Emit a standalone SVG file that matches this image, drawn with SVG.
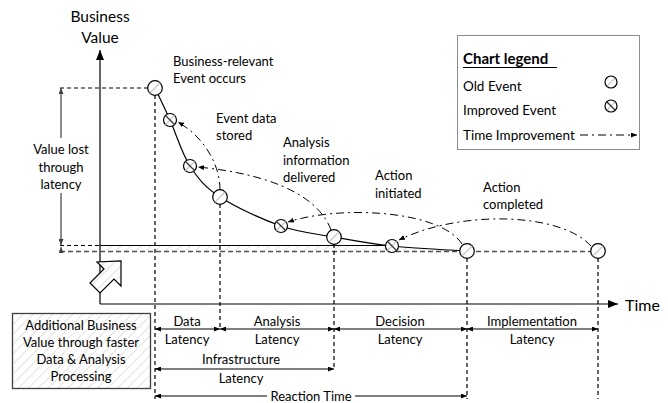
<svg xmlns="http://www.w3.org/2000/svg" width="668" height="403" viewBox="0 0 668 403">
<style>
text{font-family:Lato,"Liberation Sans",sans-serif;fill:#000}
.lbl{font-size:13px}
.leg{font-size:13.5px}
.ctr{text-anchor:middle}
.dash{stroke:#000;stroke-width:1.2;stroke-dasharray:4 3;fill:none}
.dd{stroke:#000;stroke-width:1;stroke-dasharray:8 4 2 4;fill:none}
.solid{stroke:#000;stroke-width:1.2;fill:none}
.ev{fill:#fff;stroke:#000;stroke-width:1.2}
.lt{stroke:#c8c8c8;stroke-width:1.2}
.dk{stroke:#333;stroke-width:1.3}
</style>
<defs>
<pattern id="hatch" patternUnits="userSpaceOnUse" width="7" height="7" patternTransform="rotate(45)">
<rect width="7" height="7" fill="#fff"/><line x1="0" y1="0" x2="0" y2="7" stroke="#cfcfcf" stroke-width="1.2"/>
</pattern>
<marker id="ah" viewBox="0 0 10 8" refX="10" refY="4" markerWidth="10" markerHeight="8" markerUnits="userSpaceOnUse" orient="auto-start-reverse"><path d="M0,0 L10,4 L0,8 z" fill="#000"/></marker>
<marker id="as" viewBox="0 0 6 5" refX="6" refY="2.5" markerWidth="6" markerHeight="5" markerUnits="userSpaceOnUse" orient="auto-start-reverse"><path d="M0,0 L6,2.5 L0,5 z" fill="#000"/></marker>
<marker id="ag" viewBox="0 0 6 5" refX="6" refY="2.5" markerWidth="6" markerHeight="5" markerUnits="userSpaceOnUse" orient="auto-start-reverse"><path d="M0,0 L6,2.5 L0,5 z" fill="#404040"/></marker>
</defs>
<rect width="668" height="403" fill="#fff"/>

<!-- hatched value band -->
<polygon points="100,245.5 392,245.5 467,251 100,251" fill="url(#hatch)"/>

<g id="axes">
<line x1="100" y1="304" x2="100" y2="50" class="solid" stroke-width="1.5" marker-end="url(#ah)"/>
<line x1="100" y1="304" x2="618" y2="304" class="solid" stroke-width="1.5" marker-end="url(#ah)"/>
<text x="100" y="22" class="ctr" font-size="15.5">Business</text>
<text x="100" y="43" class="ctr" font-size="15.5">Value</text>
<text x="625" y="311" font-size="16">Time</text>
</g>

<g id="connectors">
<line x1="60" y1="88" x2="148" y2="88" class="dash"/>
<line x1="60" y1="245.5" x2="100" y2="245.5" class="dash"/>
<line x1="100" y1="245.5" x2="386" y2="245.5" class="solid"/>
<line x1="60" y1="251.5" x2="591" y2="251.5" stroke="#505050" stroke-width="1.7" stroke-dasharray="5 3"/>
<line x1="155" y1="95" x2="155" y2="399" class="dash"/>
<line x1="220" y1="204" x2="220" y2="330" class="dash"/>
<line x1="334" y1="244" x2="334" y2="370" class="dash"/>
<line x1="467" y1="258" x2="467" y2="399" class="dash"/>
<line x1="598" y1="258" x2="598" y2="399" class="dash"/>
<line x1="61" y1="138" x2="61" y2="88" stroke="#404040" stroke-width="1.2" marker-end="url(#ag)"/>
<line x1="61" y1="193" x2="61" y2="245" stroke="#404040" stroke-width="1.2" marker-end="url(#ag)"/>
<line x1="61" y1="252" x2="61" y2="247" stroke="#404040" stroke-width="1" marker-end="url(#ag)"/>
<path class="solid" d="M155,88 C157.5,93.3 164.2,107 170,120 C175.8,133 181.7,153.2 190,166 C198.3,178.8 204.8,187 220,197 C235.2,207 262,219.3 281,226 C300,232.7 315.5,233.7 334,237 C352.5,240.3 369.8,243.7 392,246 C414.2,248.3 454.5,250.2 467,251"/>
<path class="dd" d="M220,190 C220,165 205,138 178,122" marker-end="url(#as)"/>
<path class="dd" d="M331,230 C320,200 280,175 198,167" marker-end="url(#as)"/>
<path class="dd" d="M462,244 C440,210 340,205 288,222" marker-end="url(#as)"/>
<path class="dd" d="M591,246 C560,212 460,210 399,240" marker-end="url(#as)"/>
<line x1="155" y1="329" x2="220" y2="329" class="solid" stroke-width="1" marker-start="url(#as)" marker-end="url(#as)"/>
<line x1="220" y1="329" x2="334" y2="329" class="solid" stroke-width="1" marker-start="url(#as)" marker-end="url(#as)"/>
<line x1="334" y1="329" x2="467" y2="329" class="solid" stroke-width="1" marker-start="url(#as)" marker-end="url(#as)"/>
<line x1="467" y1="329" x2="598" y2="329" class="solid" stroke-width="1" marker-start="url(#as)" marker-end="url(#as)"/>
<line x1="155" y1="369" x2="334" y2="369" class="solid" stroke-width="1" marker-start="url(#as)" marker-end="url(#as)"/>
<line x1="267" y1="396" x2="155" y2="396" class="solid" stroke-width="1" marker-end="url(#as)"/>
<line x1="355" y1="396" x2="467" y2="396" class="solid" stroke-width="1" marker-end="url(#as)"/>
</g>

<g id="events">
<g id="e1"><circle cx="155" cy="88" r="7.3" class="ev"/><line x1="150" y1="93" x2="160" y2="83" class="lt"/></g>
<g id="e2"><circle cx="170" cy="120" r="6.5" class="ev"/><line x1="165.5" y1="124.5" x2="174.5" y2="115.5" class="lt"/><line x1="165.5" y1="115.5" x2="174.5" y2="124.5" class="dk"/></g>
<g id="e3"><circle cx="190" cy="166" r="6.5" class="ev"/><line x1="185.5" y1="170.5" x2="194.5" y2="161.5" class="lt"/><line x1="185.5" y1="161.5" x2="194.5" y2="170.5" class="dk"/></g>
<g id="e4"><circle cx="220" cy="197" r="7.3" class="ev"/><line x1="215" y1="202" x2="225" y2="192" class="lt"/></g>
<g id="e5"><circle cx="281" cy="226" r="6.5" class="ev"/><line x1="276.5" y1="230.5" x2="285.5" y2="221.5" class="lt"/><line x1="276.5" y1="221.5" x2="285.5" y2="230.5" class="dk"/></g>
<g id="e6"><circle cx="334" cy="237" r="7.3" class="ev"/><line x1="329" y1="242" x2="339" y2="232" class="lt"/></g>
<g id="e7"><circle cx="392" cy="246" r="6.5" class="ev"/><line x1="387.5" y1="250.5" x2="396.5" y2="241.5" class="lt"/><line x1="387.5" y1="241.5" x2="396.5" y2="250.5" class="dk"/></g>
<g id="e8"><circle cx="467" cy="251" r="7.3" class="ev"/><line x1="462" y1="256" x2="472" y2="246" class="lt"/></g>
<g id="e9"><circle cx="598" cy="251" r="7.3" class="ev"/><line x1="593" y1="256" x2="603" y2="246" class="lt"/></g>
</g>

<g id="event-labels" class="lbl">
<text x="173" y="66">Business-relevant</text>
<text x="173" y="83">Event occurs</text>
<text x="216" y="123">Event data</text>
<text x="216" y="140">stored</text>
<text x="283" y="147">Analysis</text>
<text x="283" y="165">information</text>
<text x="283" y="182">delivered</text>
<text x="375" y="180">Action</text>
<text x="375" y="198">initiated</text>
<text x="483" y="192">Action</text>
<text x="483" y="209">completed</text>
</g>

<g id="value-lost" class="lbl ctr">
<text x="61" y="154">Value lost</text>
<text x="61" y="172">through</text>
<text x="61" y="189">latency</text>
</g>

<g id="improvement-arrow">
<polygon points="121,261 121,286 114,279 100,293 90,283 104,269 97,262" fill="url(#hatch)" stroke="#000" stroke-width="1.2"/>
</g>

<g id="additional-value">
<rect x="12.5" y="313.5" width="138" height="75" fill="url(#hatch)" stroke="#404040" stroke-width="1.3"/>
<text x="81" y="330" class="lbl ctr">Additional Business</text>
<text x="81" y="347" class="lbl ctr">Value through faster</text>
<text x="81" y="364" class="lbl ctr">Data &amp; Analysis</text>
<text x="81" y="381" class="lbl ctr">Processing</text>
</g>

<g id="latency-labels" class="lbl ctr">
<text x="187" y="326">Data</text>
<text x="187" y="344">Latency</text>
<text x="277" y="326">Analysis</text>
<text x="277" y="344">Latency</text>
<text x="400" y="326">Decision</text>
<text x="400" y="344">Latency</text>
<text x="532" y="326">Implementation</text>
<text x="532" y="344">Latency</text>
<text x="241" y="364">Infrastructure</text>
<text x="241" y="383">Latency</text>
<text x="311" y="400.5">Reaction Time</text>
</g>

<g id="legend">
<rect x="457.5" y="35.5" width="182" height="114" fill="#fff" stroke="#8c8c8c" stroke-width="1"/>
<text x="463" y="64" font-size="15" font-weight="bold">Chart legend</text>
<line x1="463" y1="67.5" x2="557" y2="67.5" stroke="#000" stroke-width="1.2"/>
<text x="463" y="91" class="leg">Old Event</text>
<text x="463" y="115" class="leg">Improved Event</text>
<text x="463" y="140" class="leg">Time Improvement</text>
<circle cx="611" cy="82" r="6" class="ev"/><line x1="607" y1="86" x2="615" y2="78" class="lt"/>
<circle cx="611" cy="106" r="6" class="ev"/><line x1="607" y1="110" x2="615" y2="102" class="lt"/><line x1="607" y1="102" x2="615" y2="110" class="dk"/>
<line x1="580" y1="135" x2="637" y2="135" class="dd" marker-end="url(#as)"/>
</g>
</svg>
